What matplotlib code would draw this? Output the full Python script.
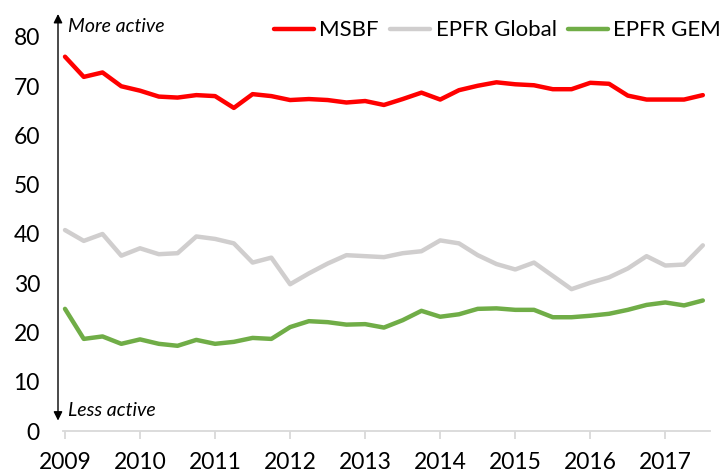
import matplotlib
matplotlib.use('Agg')
import matplotlib.pyplot as plt
import numpy as np

plt.rcParams['font.family'] = ['Lato', 'DejaVu Sans']

# quarterly observations, 2009Q1 .. 2017Q3
quarters = 2009 + np.arange(35) / 4.0

msbf = [76.0, 71.9, 72.8, 70.0, 69.1, 67.9, 67.7, 68.2, 68.0, 65.6,
        68.4, 68.0, 67.2, 67.4, 67.2, 66.7, 67.0, 66.2, 67.4, 68.7,
        67.3, 69.2, 70.1, 70.8, 70.4, 70.2, 69.4, 69.4, 70.7, 70.5,
        68.1, 67.3, 67.3, 67.3, 68.2]
epfr_global = [40.8, 38.6, 40.0, 35.6, 37.1, 35.9, 36.1, 39.5, 39.0, 38.1,
               34.2, 35.2, 29.8, 32.0, 34.0, 35.7, 35.5, 35.3, 36.1, 36.5,
               38.7, 38.1, 35.7, 33.9, 32.8, 34.2, 31.5, 28.8, 30.1, 31.2,
               33.0, 35.5, 33.6, 33.8, 37.7]
epfr_gem = [24.8, 18.7, 19.2, 17.7, 18.6, 17.7, 17.3, 18.5, 17.7, 18.1,
            18.9, 18.7, 21.1, 22.3, 22.1, 21.6, 21.7, 21.0, 22.5, 24.4,
            23.2, 23.7, 24.8, 24.9, 24.6, 24.6, 23.1, 23.1, 23.4, 23.8,
            24.6, 25.6, 26.1, 25.5, 26.5]
years = list(range(2009, 2018))
yticks = [0, 10, 20, 30, 40, 50, 60, 70, 80]

fig = plt.figure(figsize=(7.21, 4.76), dpi=100)
ax = fig.add_axes([58/721, 45/476, 651/721, 417/476])

lw = 3.2
ax.plot(quarters, msbf, color='#FF0000', lw=lw, label='MSBF', solid_capstyle='round')
ax.plot(quarters, epfr_global, color='#D0CECE', lw=lw, label='EPFR Global', solid_capstyle='round')
ax.plot(quarters, epfr_gem, color='#70AD47', lw=lw, label='EPFR GEM', solid_capstyle='round')

ax.set_xlim(2009 - 7/75.04, 2009 + 644/75.04)
ax.set_ylim(0, 84.67)

for s in ['top', 'right', 'left']:
    ax.spines[s].set_visible(False)
ax.spines['bottom'].set_color('#D9D9D9')
ax.spines['bottom'].set_linewidth(1.3)
ax.spines['bottom'].set_bounds(2008.97, 2017.6)

ax.set_xticks(years)
ax.set_xticklabels([str(y) for y in years])
ax.set_yticks(yticks)
ax.tick_params(axis='x', length=6, width=1.3, color='#D9D9D9', labelsize=16.5, pad=9)
ax.tick_params(axis='y', length=0, labelsize=16.5, pad=13)

# activity arrow
ax.annotate('', xy=(0, 1.0), xytext=(0, 0.025), xycoords='axes fraction',
            arrowprops=dict(arrowstyle='<|-|>', color='black', lw=1.0,
                            mutation_scale=13, shrinkA=0, shrinkB=0))
ax.text(0.016, 0.97, 'More active', transform=ax.transAxes, fontsize=14,
        style='italic', va='center', ha='left')
ax.text(0.016, 0.05, 'Less active', transform=ax.transAxes, fontsize=14,
        style='italic', va='center', ha='left')

fig.legend(loc='upper right', bbox_to_anchor=(1.0, 0.957), ncol=3, frameon=False,
           fontsize=16, handlelength=1.8, handletextpad=0.25, columnspacing=0.5,
           borderaxespad=0.0, borderpad=0.0)

fig.savefig('out.png', dpi=100)
